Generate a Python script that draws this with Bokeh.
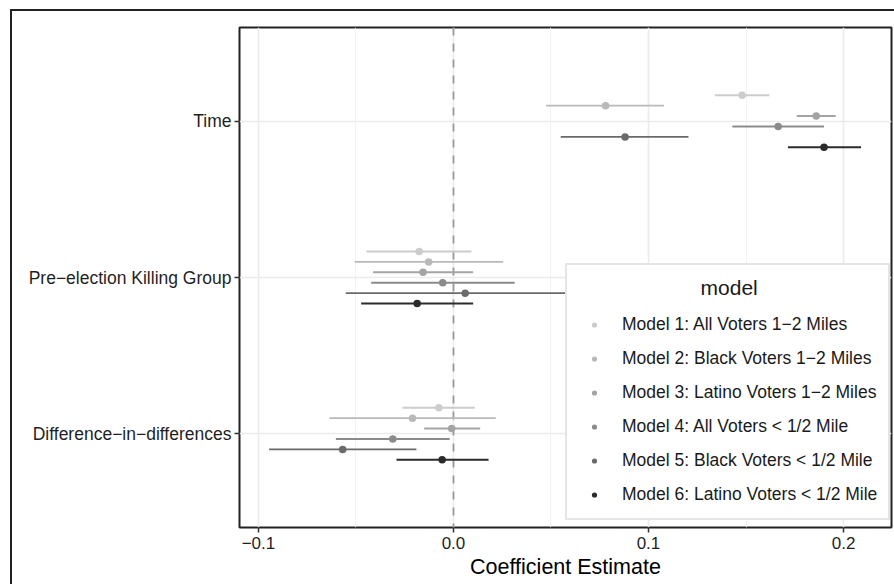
from bokeh.plotting import figure
from bokeh.models import (ColumnDataSource, FixedTicker, Span, Legend, LegendItem,
                          Range1d)
from bokeh.layouts import column
from bokeh.embed import file_html
from bokeh.resources import INLINE

# ---------------- data ----------------
terms = ["Time", "Pre\u2212election Killing Group", "Difference\u2212in\u2212differences"]
term_positions = [3, 2, 1]

models = [
    "Model 1: All Voters 1\u22122 Miles",
    "Model 2: Black Voters 1\u22122 Miles",
    "Model 3: Latino Voters 1\u22122 Miles",
    "Model 4: All Voters < 1/2 Mile",
    "Model 5: Black Voters < 1/2 Mile",
    "Model 6: Latino Voters < 1/2 Mile",
]
model_colors = ["#CCCCCC", "#B9B9B9", "#A4A4A4", "#8B8B8B", "#6A6A6A", "#2B2B2B"]
legend_title = "model"

# estimates and interval bounds, one value per model (Model 1 ... Model 6)
time_est = [0.148, 0.078, 0.186, 0.1665, 0.088, 0.190]
time_lo = [0.134, 0.0475, 0.176, 0.143, 0.055, 0.1715]
time_hi = [0.162, 0.108, 0.196, 0.190, 0.1205, 0.209]

pre_est = [-0.0176, -0.0127, -0.0156, -0.0055, 0.006, -0.0186]
pre_lo = [-0.0446, -0.0506, -0.0412, -0.0422, -0.0552, -0.0473]
pre_hi = [0.0092, 0.0255, 0.0101, 0.0314, 0.067, 0.0101]

did_est = [-0.0075, -0.021, -0.0009, -0.0311, -0.0568, -0.0058]
did_lo = [-0.0262, -0.0636, -0.015, -0.0603, -0.0945, -0.0292]
did_hi = [0.0109, 0.0217, 0.0137, -0.0019, -0.019, 0.018]

x_ticks = [-0.1, 0.0, 0.1, 0.2]
x_tick_labels = ["\u22120.1", "0.0", "0.1", "0.2"]
x_minor_ticks = [-0.05, 0.05, 0.15]

dodge_width = 0.4

# ---------------- figure ----------------
FONT = "Liberation Sans"
X_MIN, X_MAX = -0.1097, 0.2246
Y_MIN, Y_MAX = 0.4, 3.6

p = figure(width=882, height=573,
           x_range=Range1d(X_MIN, X_MAX), y_range=Range1d(Y_MIN, Y_MAX),
           output_backend="svg", toolbar_location=None,
           min_border_left=227, min_border_right=3,
           min_border_top=16, min_border_bottom=57)

p.background_fill_color = "white"
p.border_fill_color = "white"
p.outline_line_color = "#222222"
p.outline_line_width = 2

# grids
p.xgrid.ticker = FixedTicker(ticks=x_ticks, minor_ticks=x_minor_ticks)
p.xgrid.grid_line_color = "#EBEBEB"
p.xgrid.grid_line_width = 1.6
p.xgrid.minor_grid_line_color = "#F2F2F2"
p.xgrid.minor_grid_line_width = 0.9
p.ygrid.ticker = FixedTicker(ticks=term_positions)
p.ygrid.grid_line_color = "#EBEBEB"
p.ygrid.grid_line_width = 1.6

# x axis
xa = p.xaxis[0]
xa.ticker = FixedTicker(ticks=x_ticks, minor_ticks=x_minor_ticks)
xa.major_label_overrides = {t: l for t, l in zip(x_ticks, x_tick_labels)}
xa.axis_label = "Coefficient Estimate"
xa.axis_label_text_font = FONT
xa.axis_label_text_font_size = "21.5px"
xa.axis_label_text_font_style = "normal"
xa.axis_label_text_color = "#000000"
xa.axis_label_standoff = 3
xa.major_label_text_font = FONT
xa.major_label_text_font_size = "17px"
xa.major_label_text_color = "#1F1F1F"
xa.major_label_standoff = 4
xa.axis_line_color = None
xa.major_tick_in = 0
xa.major_tick_out = 5
xa.major_tick_line_color = "#333333"
xa.major_tick_line_width = 1.5
xa.minor_tick_line_color = None

# y axis
ya = p.yaxis[0]
ya.ticker = FixedTicker(ticks=term_positions)
ya.major_label_overrides = {t: l for t, l in zip(term_positions, terms)}
ya.major_label_text_font = FONT
ya.major_label_text_font_size = "17.5px"
ya.major_label_text_color = "#1F1F1F"
ya.major_label_standoff = 3
ya.axis_line_color = None
ya.major_tick_in = 0
ya.major_tick_out = 5
ya.major_tick_line_color = "#333333"
ya.major_tick_line_width = 1.5
ya.minor_tick_line_color = None

# zero line
zero = Span(location=0, dimension="height", line_color="#9A9A9A",
            line_width=1.8, line_dash="8 8", level="underlay")
p.add_layout(zero)

# ---------------- marks ----------------
n_models = len(models)
point_renderers = []
for i, (name, col) in enumerate(zip(models, model_colors)):
    offset = ((n_models - 1) / 2 - i) * dodge_width / n_models
    ys = [tp + offset for tp in term_positions]
    src = ColumnDataSource(dict(
        y=ys,
        est=[time_est[i], pre_est[i], did_est[i]],
        lo=[time_lo[i], pre_lo[i], did_lo[i]],
        hi=[time_hi[i], pre_hi[i], did_hi[i]],
    ))
    p.segment(x0="lo", x1="hi", y0="y", y1="y", source=src,
              line_color=col, line_width=1.9)
    r = p.scatter(x="est", y="y", source=src, size=7.5,
                  fill_color=col, line_color=col, line_width=0)
    point_renderers.append(r)

# ---------------- legend ----------------
# ggplot centres the legend title; Bokeh left-aligns it, so pad with no-break spaces
centred_title = "\u00a0" * 21 + legend_title
legend = Legend(
    items=[LegendItem(label=m, renderers=[r]) for m, r in zip(models, point_renderers)],
    location=(326, 7),
    title=centred_title,
    title_text_font=FONT, title_text_font_size="21px",
    title_text_font_style="normal", title_text_color="#1A1A1A",
    title_standoff=12,
    label_text_font=FONT, label_text_font_size="17.5px",
    label_text_color="#1A1A1A",
    label_height=25, glyph_height=13, glyph_width=32,
    label_standoff=12, spacing=9, padding=11, margin=0,
    border_line_color="#CCCCCC", border_line_width=2,
    background_fill_color="white", background_fill_alpha=1.0,
)
p.add_layout(legend)

layout = column(p, margin=(9, 0, 0, 10),
                styles={"border-left": "2px solid #222222",
                        "border-top": "2px solid #222222"})

open("out.html", "w").write(file_html(layout, INLINE))
